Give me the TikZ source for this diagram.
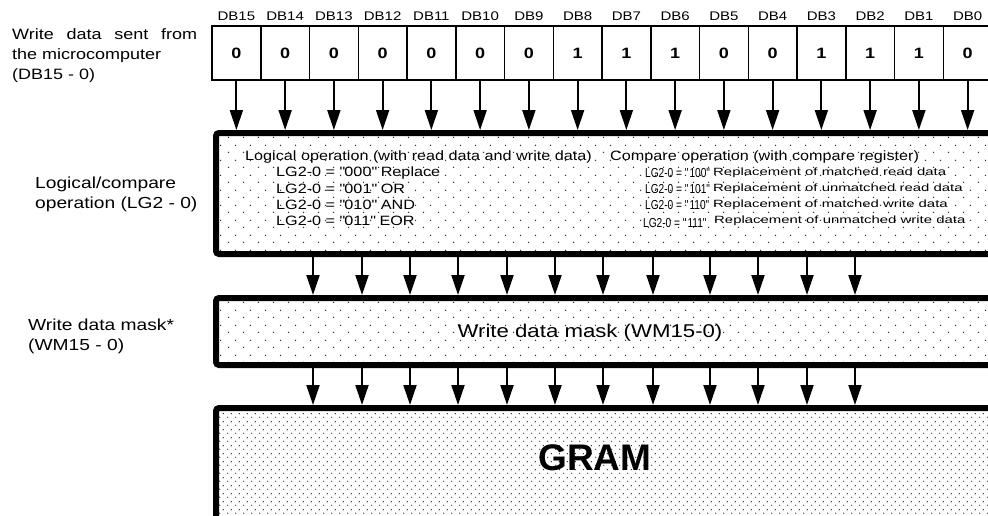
\documentclass[tikz,border=0pt]{standalone}
\usepackage{fontspec}
\setmainfont{Liberation Sans}[FakeStretch=1.2]
\newfontfamily\plainfont{Liberation Sans}
\newfontfamily\narrowfont{Liberation Sans}[FakeStretch=0.78]
\newfontfamily\widefont{Liberation Sans}[FakeStretch=1.42]
\usetikzlibrary{arrows.meta,patterns.meta}
\newcommand\qt[1]{\textquotedbl#1\textquotedbl}

\tikzdeclarepattern{
  name=sparse dots,
  type=uncolored,
  bottom left={(0pt,0pt)},
  top right={(15pt,15pt)},
  tile size={(15pt,15pt)},
  code={
    \fill (3.75pt,3.75pt) circle (0.8pt);
    \fill (11.25pt,11.25pt) circle (0.8pt);
  }
}
\tikzdeclarepattern{
  name=dense dots,
  type=uncolored,
  bottom left={(0pt,0pt)},
  top right={(7.5pt,7.5pt)},
  tile size={(7.5pt,7.5pt)},
  code={
    \fill (1.875pt,1.875pt) circle (0.75pt);
    \fill (5.625pt,5.625pt) circle (0.75pt);
  }
}

\tikzset{
  bit cell/.style={
    draw,
    line width=1.5pt,
    minimum width=48.75pt,
    minimum height=54pt,
    inner sep=0pt,
    outer sep=0pt,
    anchor=north west,
    font=\fontsize{15}{17}\selectfont\bfseries
  },
  bit name/.style={font=\fontsize{12.5}{14}\selectfont},
  op box/.style={
    draw,
    line width=6pt,
    rounded corners=3pt,
    anchor=north west,
    minimum width=900pt,
    pattern=sparse dots,
    pattern color=black!80
  },
  gram box/.style={op box, pattern=dense dots, pattern color=black!85},
  side text/.style={anchor=north west, inner sep=0pt, align=left, font=\fontsize{16}{19.5}\selectfont},
  op head/.style={anchor=west, inner sep=0pt, font=\fontsize{13.5}{15}\selectfont},
  op code/.style={anchor=west, inner sep=0pt, font=\fontsize{13.5}{15}\selectfont},
  cmp code/.style={anchor=west, inner sep=0pt, font=\narrowfont\fontsize{13}{15}\selectfont},
  small text/.style={anchor=west, inner sep=0pt, font=\widefont\fontsize{10.5}{12}\selectfont},
  bus/.style={-{Triangle[length=20pt,width=13pt]}, line width=2pt}
}

\begin{document}
\begin{tikzpicture}[x=1pt, y=-1pt]
  \useasboundingbox (0,0) rectangle (988,515);
  \clip (0,0) rectangle (988,515);

  % Side labels
  \node[side text, font=\fontsize{15}{20}\selectfont] (srclbl) at (12,28) {\makebox[185pt][s]{Write data sent from}\\the microcomputer\\(DB15 - 0)};
  \node[side text] (lglbl) at (35,177) {Logical/compare\\operation (LG2 - 0)};
  \node[side text] (wmlbl) at (28,319) {Write data mask*\\(WM15 - 0)};

  % Write data DB15-0
  \foreach \v [count=\i from 0] in {0,0,0,0,0,0,0,1,1,1,0,0,1,1,1,0} {
    \pgfmathtruncatemacro\n{15-\i}
    \node[bit cell, label={[bit name, label distance=1.5pt]above:DB\n}] (b\i) at (212+\i*48.75,26) {\v};
  }

  % Logical/compare operation
  \node[op box, minimum height=121pt] (lgbox) at (213,130) {};
  \node[op head] (lghead) at (245,157) {Logical operation (with read data and write data)};
  \node[op code] (lg0) at (276,173) {LG2-0 = \qt{000} Replace};
  \node[op code] (lg1) at (276,189) {LG2-0 = \qt{001} OR};
  \node[op code] (lg2) at (276,205) {LG2-0 = \qt{010} AND};
  \node[op code] (lg3) at (276,221) {LG2-0 = \qt{011} EOR};
  \node[op head] (cphead) at (610,157) {Compare operation (with compare register)};
  \node[cmp code] (cp4) at (645,173) {LG2-0 = \qt{100}};
  \node[cmp code] (cp5) at (645,189) {LG2-0 = \qt{101}};
  \node[cmp code] (cp6) at (645,205) {LG2-0 = \qt{110}};
  \node[cmp code] (cp7) at (643,223) {LG2-0 = \qt{111}};
  \node[small text] (rp4) at (713,173) {Replacement of matched read data};
  \node[small text] (rp5) at (713,189) {Replacement of unmatched read data};
  \node[small text] (rp6) at (713,205) {Replacement of matched write data};
  \node[small text] (rp7) at (714,221) {Replacement of unmatched write data};

  % Write data mask
  \node[op box, minimum height=67pt] (wmbox) at (213,295) {};
  \node[font=\fontsize{18.5}{20}\selectfont, inner sep=0pt] (wmtext) at (590,333) {Write data mask (WM15-0)};

  % GRAM
  \node[gram box, minimum height=130pt] (gram) at (213,405) {};
  \node[font=\plainfont\bfseries\fontsize{37}{40}\selectfont, inner sep=0pt] (gramtext) at (595,458) {GRAM};

  % Data buses
  \foreach \i in {0,...,15}
    \draw[bus] (b\i.south) -- (b\i.south |- lgbox.north);
  \foreach \x in {313,362,410,458,507,555,603,653,710,758,807,855} {
    \draw[bus] (\x,0 |- lgbox.south) -- (\x,0 |- wmbox.north);
    \draw[bus] (\x,0 |- wmbox.south) -- (\x,0 |- gram.north);
  }

\end{tikzpicture}
\end{document}
